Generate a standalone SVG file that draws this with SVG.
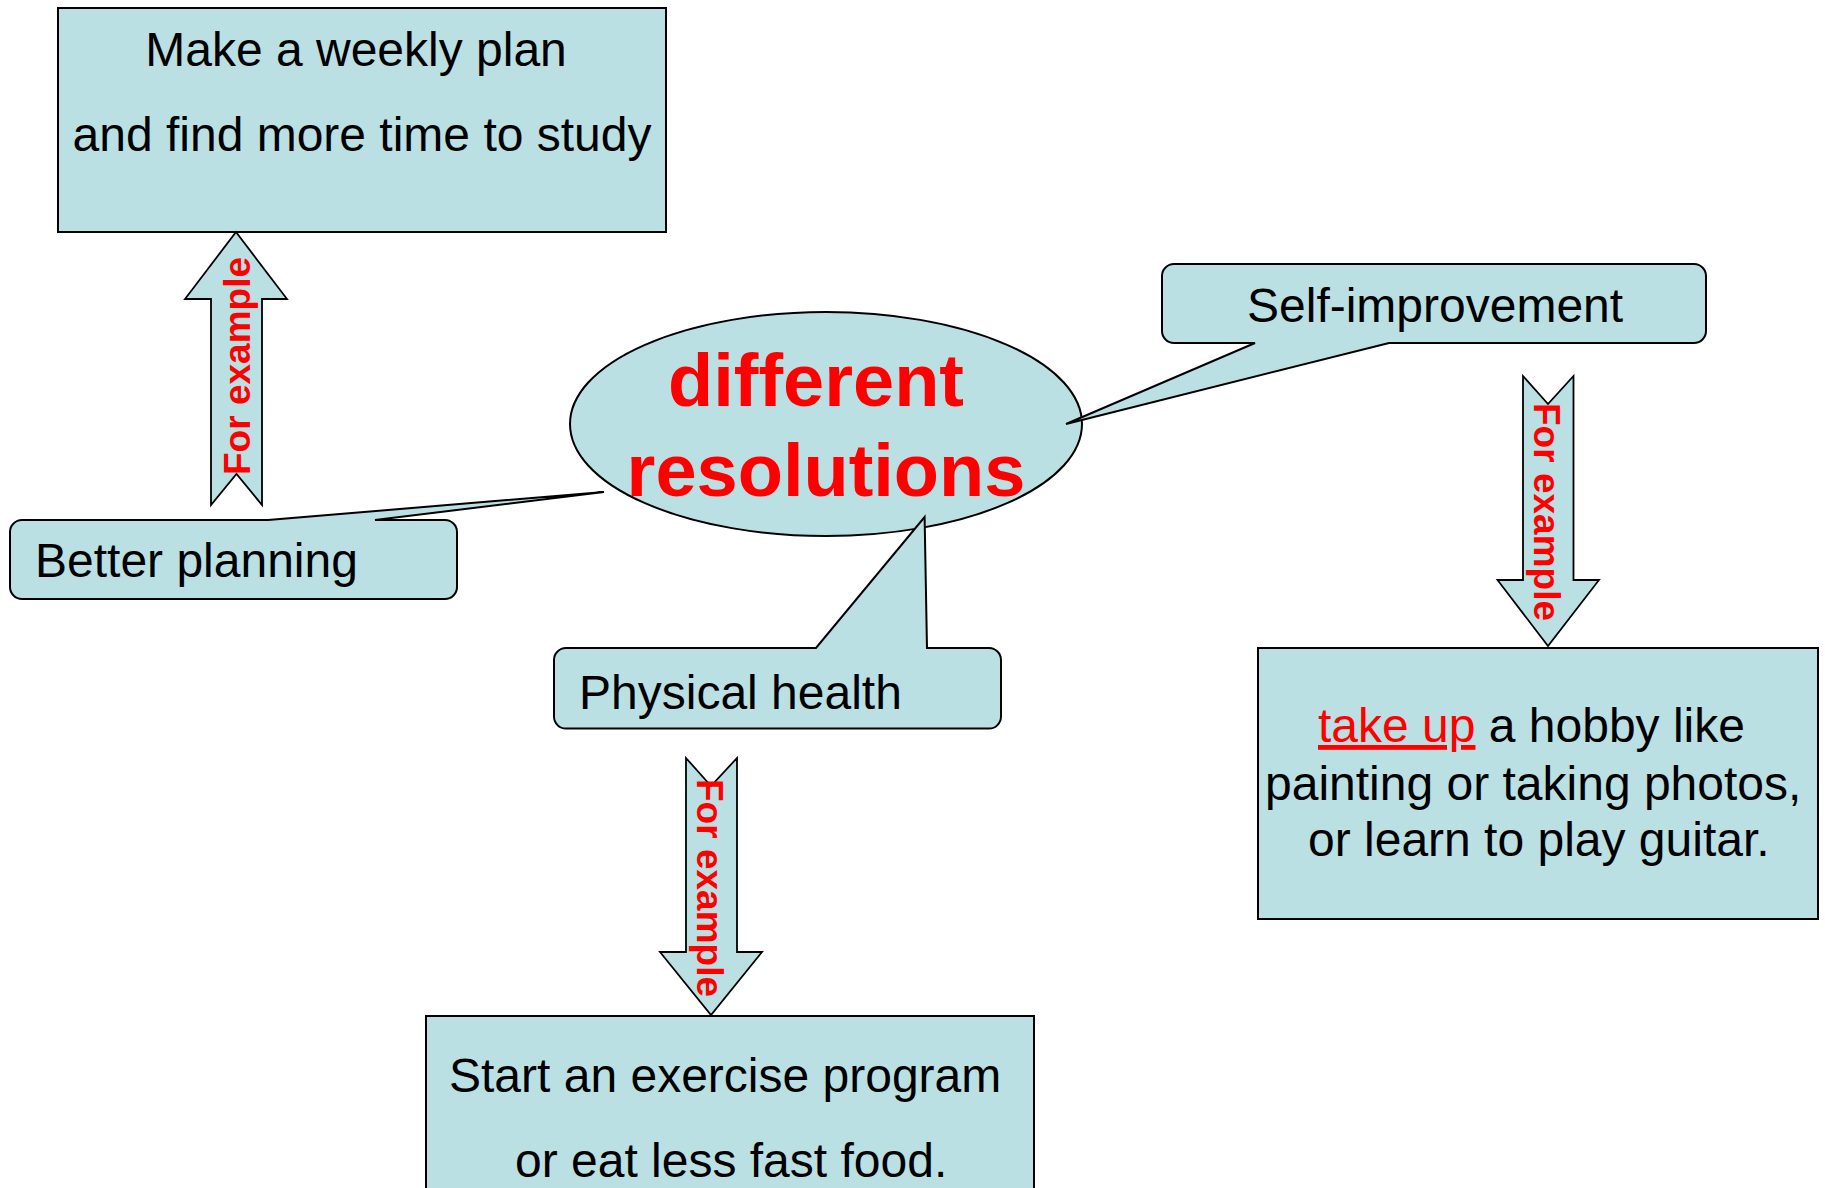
<svg xmlns="http://www.w3.org/2000/svg" width="1825" height="1188" viewBox="0 0 1825 1188">
<style>
.box{fill:#BBE0E3;stroke:#000;stroke-width:2}
.arr{fill:#BBE0E3;stroke:#000;stroke-width:1.8;stroke-linejoin:miter}
.t{font-family:"Liberation Sans",Arial,sans-serif;font-size:48px;fill:#000}
.fe{font-family:"Liberation Sans",Arial,sans-serif;font-size:37px;font-weight:bold;fill:#FF0000}
.big{font-family:"Liberation Sans",Arial,sans-serif;font-size:74px;font-weight:bold;fill:#FF0000}
</style>
<rect width="1825" height="1188" fill="#fff"/>
<g id="center">
<ellipse class="box" cx="826" cy="424" rx="256" ry="112"/>
<text class="big" x="816" y="406" text-anchor="middle">different</text>
<text class="big" x="826" y="496" text-anchor="middle">resolutions</text>
</g>
<g id="planning-example">
<rect class="box" x="58" y="8" width="608" height="224"/>
<text class="t" x="356" y="66" text-anchor="middle">Make a weekly plan</text>
<text class="t" x="362" y="151" text-anchor="middle">and find more time to study</text>
</g>
<g id="better-planning">
<path class="box" d="M22,520 L268,520 L604,492 L375,520 L445,520 A12,12 0 0 1 457,532 L457,587 A12,12 0 0 1 445,599 L22,599 A12,12 0 0 1 10,587 L10,532 A12,12 0 0 1 22,520 Z"/>
<text class="t" x="35" y="577">Better planning</text>
</g>
<g id="self-improvement">
<path class="box" d="M1174,264 L1694,264 A12,12 0 0 1 1706,276 L1706,331 A12,12 0 0 1 1694,343 L1389,343 L1066,424 L1255,343 L1174,343 A12,12 0 0 1 1162,331 L1162,276 A12,12 0 0 1 1174,264 Z"/>
<text class="t" x="1247" y="322">Self-improvement</text>
</g>
<g id="physical-health">
<path class="box" d="M566,648 L816,648 L924.6,517 L927,648 L989,648 A12,12 0 0 1 1001,660 L1001,716.6 A12,12 0 0 1 989,728.6 L566,728.6 A12,12 0 0 1 554,716.6 L554,660 A12,12 0 0 1 566,648 Z"/>
<text class="t" x="579" y="709">Physical health</text>
</g>
<g id="hobby-example">
<rect class="box" x="1258" y="648" width="560" height="271"/>
<text class="t" x="1318" y="742"><tspan fill="#FF0000" text-decoration="underline">take up</tspan> a hobby like</text>
<text class="t" x="1265" y="800">painting or taking photos,</text>
<text class="t" x="1308" y="856">or learn to play guitar.</text>
</g>
<g id="exercise-example">
<rect class="box" x="426" y="1016" width="608" height="220"/>
<text class="t" x="449" y="1092">Start an exercise program</text>
<text class="t" x="515" y="1177">or eat less fast food.</text>
</g>
<g id="connectors">
<polygon class="arr" points="236,232 287,299 262,299 262,505 236.5,474 211,505 211,299 185,299"/>
<text class="fe" transform="translate(250,366) rotate(-90)" text-anchor="middle">For example</text>
<polygon class="arr" points="1523,376 1548,404 1573.5,376 1573.5,580 1599,580 1548,646 1497.5,580 1523,580"/>
<text class="fe" transform="translate(1534,512) rotate(90)" text-anchor="middle">For example</text>
<polygon class="arr" points="686,758 711,786 737,758 737,952 762,952 711,1015 660,952 686,952"/>
<text class="fe" transform="translate(697,888) rotate(90)" text-anchor="middle">For example</text>
</g>
</svg>
